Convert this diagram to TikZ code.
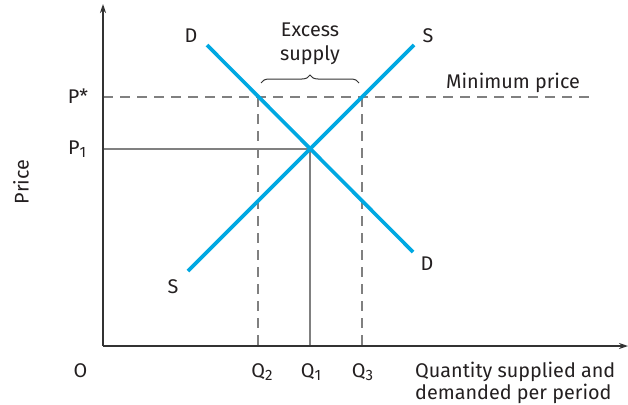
\documentclass[tikz,border=0pt]{standalone}
\usepackage{fontspec}
\setmainfont{Fira Sans}
\usetikzlibrary{arrows.meta,decorations.pathreplacing}
\definecolor{curve}{HTML}{00A8E2}
\definecolor{guide}{HTML}{808080}
\definecolor{axis}{HTML}{333333}
\definecolor{txt}{HTML}{231F20}
\newcommand{\lsub}[1]{\raisebox{-0.35ex}{\fontsize{15}{15}\selectfont #1}}
\begin{document}
\begin{tikzpicture}[x=1pt,y=-1pt,
  lbl/.style={text=txt,font=\fontsize{19.8}{22}\selectfont,inner sep=0pt,anchor=base},
  axisline/.style={draw=axis,line width=1.5pt},
  guidedash/.style={draw=guide,line width=1.3pt,dash pattern=on 10pt off 7pt},
  guidesolid/.style={draw=guide,line width=1.3pt},
  curveline/.style={draw=curve,line width=3.6pt}]
\useasboundingbox (0,0) rectangle (628,404);
% coordinates
\coordinate (O) at (103,346);
\coordinate (ytop) at (103,4);
\coordinate (xend) at (628,346);
\coordinate (Pstar) at (103,97);
\coordinate (Pone) at (103,149);
\coordinate (E) at (310,149);
\coordinate (A) at (258,97);
\coordinate (B) at (362,97);
\coordinate (Q2b) at (258,346);
\coordinate (Q1b) at (310,346);
\coordinate (Q3b) at (362,346);
\coordinate (mpend) at (590,97);
\coordinate (D1) at (207,45);
\coordinate (D2) at (413,252);
\coordinate (S1) at (188,271);
\coordinate (S2) at (414,45);
\coordinate (br1) at (261,83);
\coordinate (br2) at (359,83);
% guides
\draw[guidedash] (Pstar) -- (mpend);
\draw[guidedash] (A) -- (Q2b);
\draw[guidedash] (B) -- (Q3b);
\draw[guidesolid] (Pone) -- (E) -- (Q1b);
% axes
\draw[axisline,-{Stealth[length=9pt,width=6pt]}] (O) -- (ytop);
\draw[axisline,-{Stealth[length=9pt,width=6pt]}] (O) -- (xend);
% curves
\draw[curveline] (D1) -- (D2);
\draw[curveline] (S1) -- (S2);
% brace
\draw[draw=axis,line width=1pt,decorate,decoration={brace,amplitude=8pt}] (br1) -- (br2);
% labels
\node[lbl] (lD1) at (191,43) {D};
\node[lbl] (lS2) at (428,43) {S};
\node[lbl] (lS1) at (173,293) {S};
\node[lbl] (lD2) at (427,270) {D};
\node[lbl] (lex1) at (310,37) {Excess};
\node[lbl] (lex2) at (310,60) {supply};
\node[lbl,anchor=base west] (lmin) at (446,88) {Minimum price};
\node[lbl] (lPs) at (78,103) {P*};
\node[lbl] (lP1) at (77,154) {P\lsub{1}};
\node[lbl,rotate=90,anchor=center] (lprice) at (21,182) {Price};
\node[lbl] (lO) at (80.5,377) {O};
\node[lbl] (lQ2) at (262,377) {Q\lsub{2}};
\node[lbl] (lQ1) at (311,377) {Q\lsub{1}};
\node[lbl] (lQ3) at (362.5,377) {Q\lsub{3}};
\node[lbl,anchor=base west] (lq1) at (415,377) {Quantity supplied and};
\node[lbl,anchor=base west] (lq2) at (415,399) {demanded per period};
\end{tikzpicture}
\end{document}
